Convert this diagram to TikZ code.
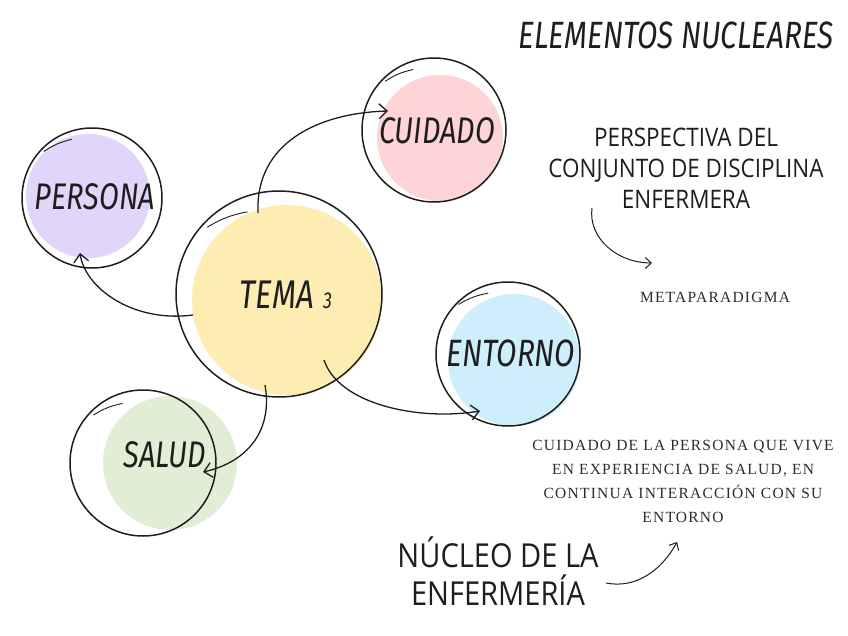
\documentclass[tikz,border=0pt]{standalone}
\usepackage{fontspec}
\usetikzlibrary{arrows.meta,calc}
\newfontfamily\hand{Fira Sans}[FakeStretch=0.78]
\newfontfamily\thinhand{Open Sans}[FakeStretch=0.88]
\newfontfamily\serifsp{Liberation Serif}[LetterSpace=8]
\definecolor{ink}{HTML}{1E1E1E}
\definecolor{graytext}{HTML}{2C2C2C}
\definecolor{cpurple}{HTML}{E2D5FA}
\definecolor{cpink}{HTML}{FDD5D6}
\definecolor{cyellow}{HTML}{FDEDB3}
\definecolor{cblue}{HTML}{CDEEFA}
\definecolor{cgreen}{HTML}{E1EDD4}
\begin{document}
\begin{tikzpicture}[x=1pt,y=-1pt,
  blob/.style={circle, inner sep=0pt, draw=none},
  ring/.style={circle, inner sep=0pt, draw=ink, line width=1.5pt},
  tail/.style={draw=ink, line width=0.9pt},
  arr/.style={draw=ink, line width=1.3pt, -{Straight Barb[length=8pt,width=15pt]}},
  smallarr/.style={draw=ink, line width=1pt, -{Straight Barb[length=6pt,width=11pt]}},
  lbl/.style={text=ink, inner sep=0pt, font=\hand\itshape\fontsize{36}{36}\selectfont},
  thinlbl/.style={text=ink, inner sep=0pt, align=center},
  seriflbl/.style={text=graytext, inner sep=0pt, align=center}]
\fill[white] (0,0) rectangle (848,636);
\useasboundingbox (0,0) rectangle (848,636);

% colour blobs
\node[blob, fill=cpurple, minimum size=124pt] (personaBg) at (88,196) {};
\node[blob, fill=cpink, minimum size=126pt] (cuidadoBg) at (440,138) {};
\node[blob, fill=cyellow, minimum size=190pt] (temaBg) at (287,300) {};
\node[blob, fill=cblue, minimum size=132pt] (entornoBg) at (514,360) {};
\node[blob, fill=cgreen, minimum size=134pt] (saludBg) at (170,463) {};

% rings
\node[ring, minimum size=140pt] (persona) at (92,198) {};
\node[ring, minimum size=144pt] (cuidado) at (434,130) {};
\node[ring, minimum size=206pt] (tema) at (279,294) {};
\node[ring, minimum size=144pt] (entorno) at (508,354) {};
\node[ring, minimum size=146pt] (salud) at (143,463) {};

% sketch tails
\draw[tail] ($(persona)+(224:67)$) to[bend left=10] ($(persona)+(251:62)$);
\draw[tail] ($(tema)+(223:98)$) to[bend left=10] ($(tema)+(249:88)$);
\draw[tail] ($(cuidado)+(225:69)$) to[bend left=10] ($(cuidado)+(251:64)$);
\draw[tail] ($(entorno)+(225:70)$) to[bend left=10] ($(entorno)+(252:64)$);
\draw[tail] ($(salud)+(224:69)$) to[bend left=10] ($(salud)+(251:63)$);

% connectors
\coordinate (a1s) at ($(tema)+(-21,-81)$);
\coordinate (a1e) at ($(cuidado)+(-46,-19)$);
\draw[arr] (a1s) .. controls +(-3,-70) and +(-70,2) .. (a1e);
\coordinate (a2s) at ($(tema)+(-86,21)$);
\coordinate (a2e) at ($(persona)+(-12,55)$);
\draw[arr] (a2s) .. controls +(-60,8) and +(5,35) .. (a2e);
\coordinate (a3s) at ($(tema)+(-14,91)$);
\coordinate (a3e) at ($(salud)+(60,9)$);
\draw[arr] (a3s) .. controls +(8,45) and +(45,-10) .. (a3e);
\coordinate (a4s) at ($(tema)+(45,66)$);
\coordinate (a4e) at ($(entorno)+(-28,57)$);
\draw[arr] (a4s) .. controls +(15,45) and +(-60,10) .. (a4e);

% labels
\node[lbl, font=\hand\itshape\fontsize{37}{37}\selectfont] (personaT) at (95,197) {PERSONA};
\node[lbl, font=\hand\itshape\fontsize{37}{37}\selectfont] (cuidadoT) at (437,131) {CUIDADO};
\node[lbl, font=\hand\itshape\fontsize{40}{40}\selectfont] (temaT) at (286,295) {TEMA\hspace{9pt}{\fontsize{23}{23}\selectfont 3}};
\node[lbl, font=\hand\itshape\fontsize{38}{38}\selectfont] (entornoT) at (511,353) {ENTORNO};
\node[lbl, font=\hand\itshape\fontsize{37}{37}\selectfont] (saludT) at (165,455) {SALUD};
\node[lbl, font=\hand\itshape\fontsize{38}{38}\selectfont] (title) at (676,35) {ELEMENTOS NUCLEARES};

\node[thinlbl, font=\thinhand\fontsize{25.5}{31}\selectfont] (persp) at (686,168) {PERSPECTIVA DEL\\CONJUNTO DE DISCIPLINA\\ENFERMERA};
\node[seriflbl, font=\serifsp\fontsize{15.5}{15.5}\selectfont] (meta) at (715,297) {METAPARADIGMA};
\node[seriflbl, font=\serifsp\fontsize{15.5}{24}\selectfont] (def) at (683,481) {CUIDADO DE LA PERSONA QUE VIVE\\EN EXPERIENCIA DE SALUD, EN\\CONTINUA INTERACCIÓN CON SU\\ENTORNO};
\node[thinlbl, font=\thinhand\fontsize{33}{38}\selectfont] (nucleo) at (498,571) {NÚCLEO DE LA\\ENFERMERÍA};

\coordinate (a5s) at (592,208);
\coordinate (a5e) at (652,263);
\draw[smallarr] (a5s) .. controls +(-4,30) and +(-35,0) .. (a5e);
\coordinate (a6s) at (606,583);
\coordinate (a6e) at (677,542);
\draw[smallarr] (a6s) .. controls +(30,6) and +(-15,28) .. (a6e);
\end{tikzpicture}
\end{document}
